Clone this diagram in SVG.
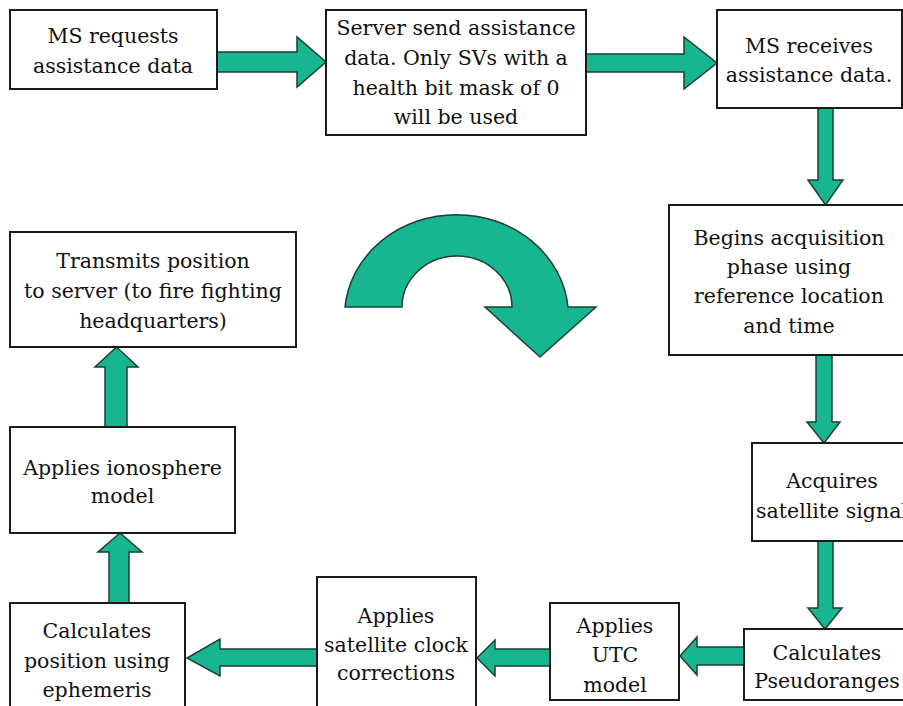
<svg xmlns="http://www.w3.org/2000/svg" width="903" height="706" viewBox="0 0 903 706">
<style>
.box{fill:#fff;stroke:#1a1a1a;stroke-width:2}
.t{font-family:"DejaVu Serif","Liberation Serif",serif;font-size:20.5px;fill:#111;text-anchor:middle}
.ar{fill:#17b690;stroke:#1d3f36;stroke-width:1.5;stroke-linejoin:miter}
</style>
<rect width="903" height="706" fill="#fff"/>
<g id="connectors">
<path class="ar" d="M217 52H297V37L326 62L297 87V72H217Z"/>
<path class="ar" d="M586 54H684V37L717 63L684 89V72H586Z"/>
<path class="ar" d="M818 108V180H808L825.5 205L843 180H833V108Z"/>
<path class="ar" d="M816 355V422H807L824 443L840 422H832V355Z"/>
<path class="ar" d="M818 541V608H808L825 629L842 608H833V541Z"/>
<path class="ar" d="M744 647H697V637L680 656L697 675V665H744Z"/>
<path class="ar" d="M551 649H495V640L477 658L495 676V666H551Z"/>
<path class="ar" d="M317 649H220V639L187 658L220 676V666H317Z"/>
<path class="ar" d="M109 603V552H98L120 533L142 552H129V603Z"/>
<path class="ar" d="M105 427V367H95L116.5 347L138 367H127V427Z"/>
<path id="cycle" class="ar" d="M345 307A112 102 0 0 1 568 307H596L540 357L485 307H512A55 51 0 0 0 402 307Z"/>
</g>
<g id="n1"><rect class="box" x="10" y="10" width="207" height="79"/>
<text class="t" x="113" y="43">MS requests</text><text class="t" x="113" y="73">assistance data</text></g>
<g id="n2"><rect class="box" x="326" y="10" width="260" height="125"/>
<text class="t" x="456" y="35">Server send assistance</text><text class="t" x="456" y="65">data. Only SVs with a</text><text class="t" x="456" y="95">health bit mask of 0</text><text class="t" x="456" y="124">will be used</text></g>
<g id="n3"><rect class="box" x="717" y="10" width="185" height="98"/>
<text class="t" x="809" y="53">MS receives</text><text class="t" x="809" y="82">assistance data.</text></g>
<g id="n4"><rect class="box" x="669" y="205" width="250" height="150"/>
<text class="t" x="789" y="245">Begins acquisition</text><text class="t" x="789" y="274">phase using</text><text class="t" x="789" y="303">reference location</text><text class="t" x="789" y="333">and time</text></g>
<g id="n5"><rect class="box" x="752" y="443" width="170" height="98"/>
<text class="t" x="832" y="488">Acquires</text><text class="t" x="832" y="518">satellite signal</text></g>
<g id="n6"><rect class="box" x="744" y="629" width="170" height="71"/>
<text class="t" x="827" y="660">Calculates</text><text class="t" x="827" y="688">Pseudoranges</text></g>
<g id="n7"><rect class="box" x="550" y="603" width="129" height="97"/>
<text class="t" x="615" y="633">Applies</text><text class="t" x="615" y="662">UTC</text><text class="t" x="615" y="692">model</text></g>
<g id="n8"><rect class="box" x="317" y="577" width="159" height="135"/>
<text class="t" x="396" y="623">Applies</text><text class="t" x="396" y="652">satellite clock</text><text class="t" x="396" y="680">corrections</text></g>
<g id="n9"><rect class="box" x="10" y="603" width="175" height="110"/>
<text class="t" x="97" y="638">Calculates</text><text class="t" x="97" y="668">position using</text><text class="t" x="97" y="697">ephemeris</text></g>
<g id="n10"><rect class="box" x="10" y="427" width="225" height="106"/>
<text class="t" x="122.5" y="475">Applies ionosphere</text><text class="t" x="122.5" y="503">model</text></g>
<g id="n11"><rect class="box" x="10" y="232" width="286" height="115"/>
<text class="t" x="153" y="268">Transmits position</text><text class="t" x="153" y="298">to server (to fire fighting</text><text class="t" x="153" y="328">headquarters)</text></g>
</svg>
